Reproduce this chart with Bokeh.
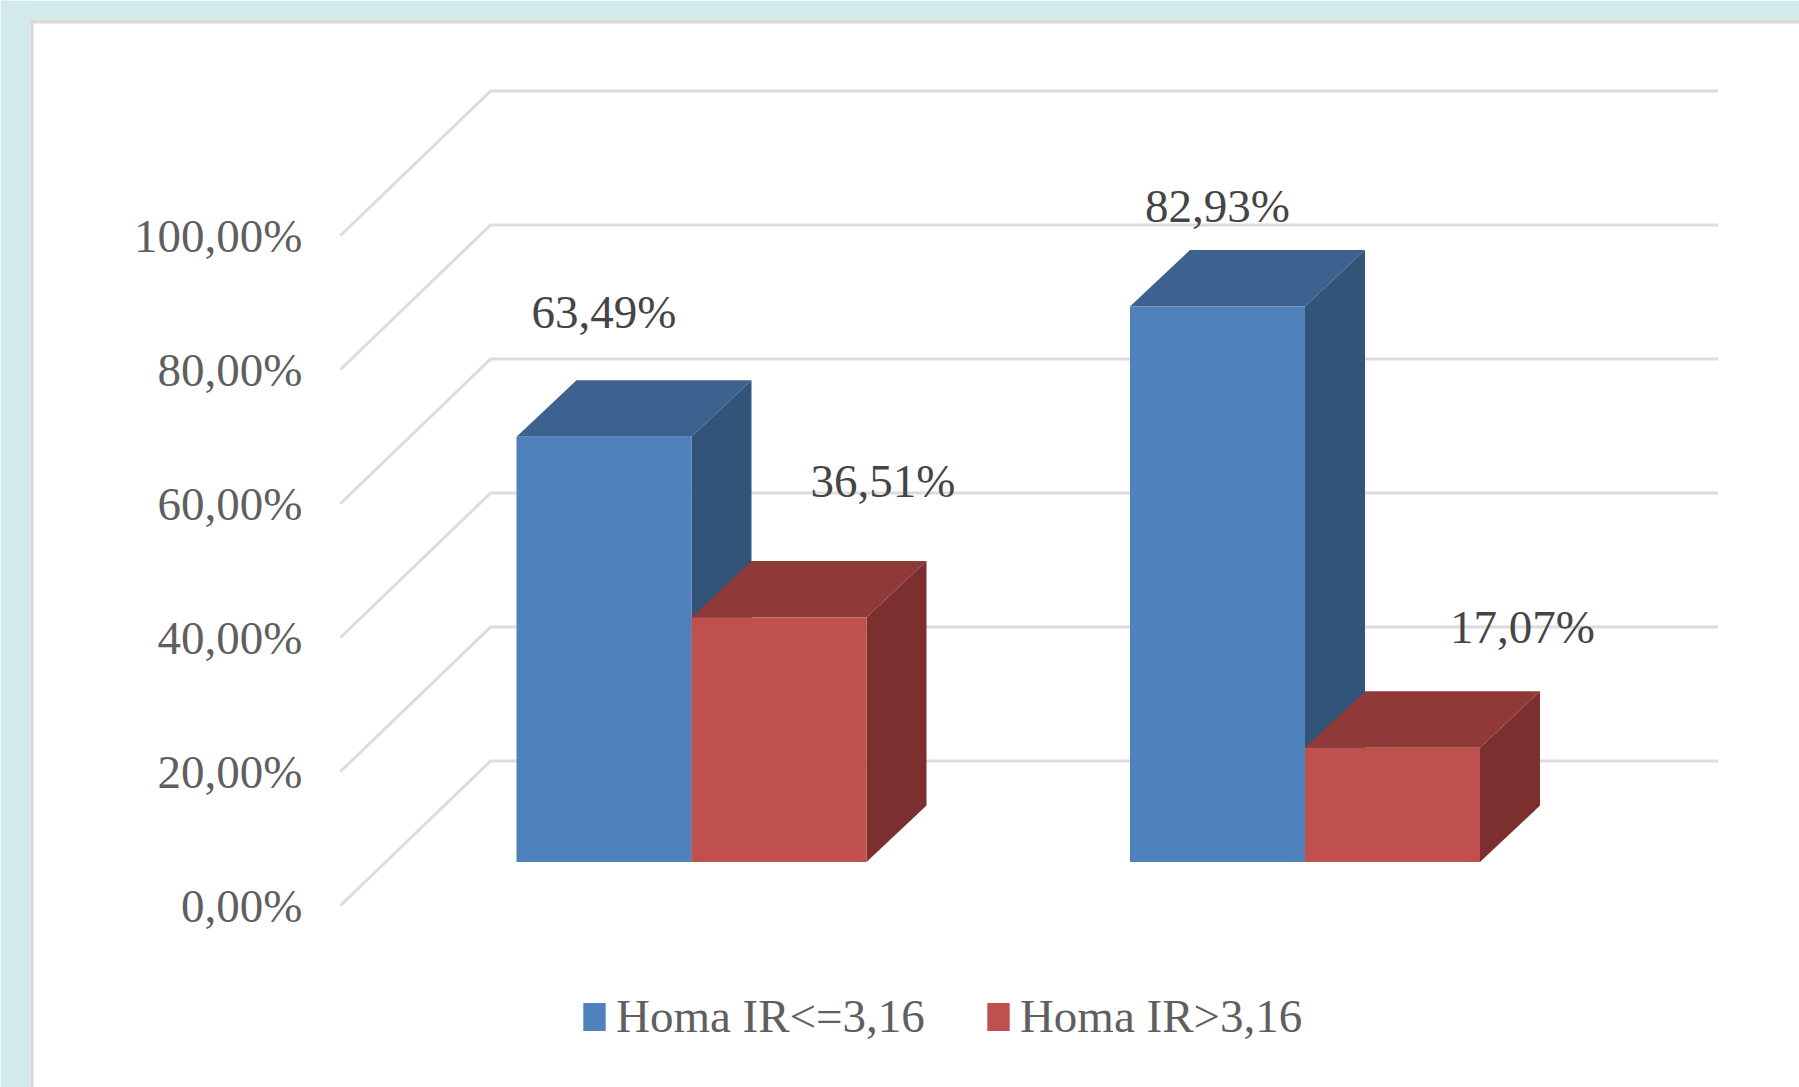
from bokeh.plotting import figure
from bokeh.models import Range1d, Legend, LegendItem
from bokeh.core.properties import value
from bokeh.embed import file_html
from bokeh.resources import INLINE

# ---- data ----
categories = [0, 1]
series_names = ["Homa IR<=3,16", "Homa IR>3,16"]
homa_low = [63.49, 82.93]
homa_high = [36.51, 17.07]
low_labels = ["63,49%", "82,93%"]
high_labels = ["36,51%", "17,07%"]
tick_values = [0, 20, 40, 60, 80, 100]
tick_labels = ["0,00%", "20,00%", "40,00%", "60,00%", "80,00%", "100,00%"]

# ---- style / layout ----
PX_PER_CAT = 613.5
PX_PER_PCT = 6.7
X0, Y0 = 691.0, 861.6          # page pixel of category 0 / value 0
W, H = 1799, 1087
FONT = "Liberation Serif"
FS = "47px"
BG = "#D2EAEB"
BLUE = ("#4F81BD", "#3E6290", "#325479")
RED = ("#C0504D", "#8F3A38", "#7B302F")
bar_w = 175 / PX_PER_CAT
dx = 60 / PX_PER_CAT
dy = 56.5 / PX_PER_PCT
# 3D floor of the chart, in data units relative to the bars' base
wall_left = (490 - X0) / PX_PER_CAT
wall_right = (1717.5 - X0) / PX_PER_CAT
front_left = (340 - X0) / PX_PER_CAT
wall_dy = (861.6 - 760.6) / PX_PER_PCT
front_dy = (861.6 - 905) / PX_PER_PCT
tick_right = (302 - X0) / PX_PER_CAT


def xpx(px):
    return (px - X0) / PX_PER_CAT


def ypx(px):
    return (Y0 - px) / PX_PER_PCT


p = figure(
    width=W, height=H, output_backend="svg", toolbar_location=None,
    x_range=Range1d(xpx(0), xpx(W)), y_range=Range1d(ypx(H), ypx(0)),
    x_axis_type=None, y_axis_type=None, min_border=0, outline_line_color=None,
    background_fill_color="white", border_fill_color="white",
)
p.xgrid.visible = False
p.ygrid.visible = False

# page frame around the white panel
p.quad(left=xpx(0), right=xpx(W), top=ypx(0), bottom=ypx(19), fill_color=BG, line_color=None)
p.quad(left=xpx(0), right=xpx(30), top=ypx(0), bottom=ypx(H), fill_color=BG, line_color=None)
p.quad(left=xpx(30), right=xpx(W), top=ypx(19), bottom=ypx(23), fill_color="#D9D9D9", line_color=None)
p.quad(left=xpx(30), right=xpx(33), top=ypx(19), bottom=ypx(H), fill_color="#D9D9D9", line_color=None)

# gridlines on the wall and the floor
for t in tick_values:
    p.line([front_left, wall_left, wall_right],
           [t + front_dy, t + wall_dy, t + wall_dy],
           line_color="#DCDCDC", line_width=3)

# tick labels
p.text(x=[tick_right] * len(tick_values), y=[t + front_dy for t in tick_values], text=tick_labels,
       text_font=value(FONT), text_font_size=FS, text_color="#5F5F5F",
       text_align="right", text_baseline="alphabetic", y_offset=0)

renderers = []
for vals, sign, cols in ((homa_low, -1, BLUE), (homa_high, 1, RED)):
    for c, v in zip(categories, vals):
        l = c + (bar_w if sign > 0 else -bar_w)
        a, b = min(c, l), max(c, l)
        # top and side faces
        p.patch([a, b, b + dx, a + dx], [v, v, v + dy, v + dy], fill_color=cols[1], line_color=None)
        p.patch([b, b + dx, b + dx, b], [0, dy, v + dy, v], fill_color=cols[2], line_color=None)
    xs = [c + sign * bar_w / 2 for c in categories]
    renderers.append(p.vbar(x=xs, top=vals, width=bar_w, bottom=0, fill_color=cols[0], line_color=None))

# data labels (hand-placed in the reference)
low_dx = [0, 0]
low_up = [124.5, 100.5]
high_dx = [104, 130]
high_up = [136.5, 120.5]
p.text(x=[c - bar_w / 2 + d / PX_PER_CAT for c, d in zip(categories, low_dx)],
       y=[v + u / PX_PER_PCT for v, u in zip(homa_low, low_up)], text=low_labels,
       text_font=value(FONT), text_font_size=FS, text_color="#454545",
       text_align="center", text_baseline="alphabetic")
p.text(x=[c + bar_w / 2 + d / PX_PER_CAT for c, d in zip(categories, high_dx)],
       y=[v + u / PX_PER_PCT for v, u in zip(homa_high, high_up)], text=high_labels,
       text_font=value(FONT), text_font_size=FS, text_color="#454545",
       text_align="center", text_baseline="alphabetic")

legend = Legend(
    items=[LegendItem(label=n, renderers=[r]) for n, r in zip(series_names, renderers)],
    orientation="horizontal", location=(580, 44),
    glyph_width=28, glyph_height=35, label_standoff=8, spacing=59, padding=0, margin=0,
    label_text_font=FONT, label_text_font_size=FS, label_text_color="#5F5F5F",
    label_height=35, background_fill_alpha=0, border_line_color=None,
)
p.add_layout(legend, "center")

open("out.html", "w").write(file_html(p, INLINE))
